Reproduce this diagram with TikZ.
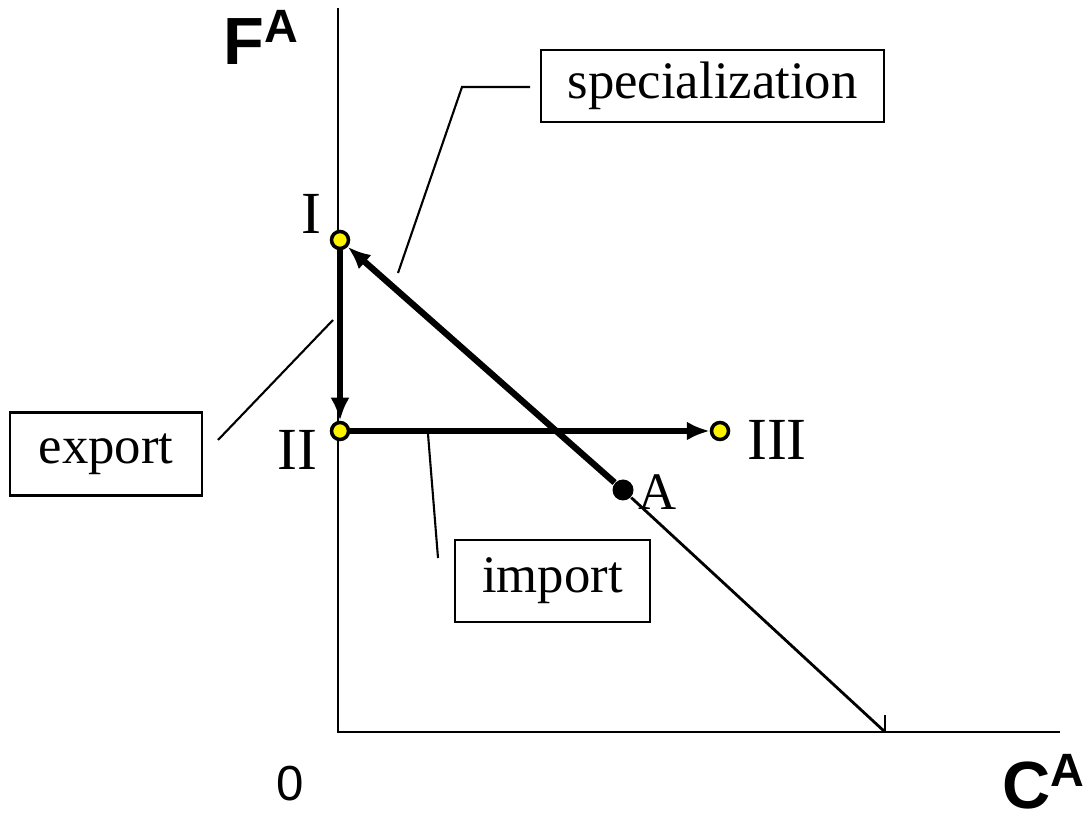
\documentclass[tikz,border=0pt]{standalone}
\usepackage{fontspec}
\setmainfont{Liberation Serif}
\newfontfamily\axisfont{Liberation Sans}
\usetikzlibrary{arrows.meta}
\tikzset{
  pt/.style={circle, draw=black, line width=1pt, fill=yellow, inner sep=0pt, minimum size=0.17cm},
  box/.style={draw, line width=0.6pt, inner sep=0pt, font=\fontsize{15}{18}\selectfont},
  move/.style={line width=1.8pt, -{Latex[length=2.3mm, width=1.9mm]}},
  lbl/.style={font=\fontsize{17}{20}\selectfont},
  ax/.style={font=\axisfont\bfseries\fontsize{19}{22}\selectfont}
}
\begin{document}
\begin{tikzpicture}
    \useasboundingbox (0,0) rectangle (10.89,8.20);
    \coordinate (O) at (3.38,0.88);
    \coordinate (Ytop) at (3.38,8.12);
    \coordinate (Xend) at (10.60,0.88);
    \coordinate (T) at (8.85,0.88);
    \coordinate (Ttop) at (8.85,1.05);
    \draw[line width=0.8pt] (Ytop) -- (O) -- (Xend);
    \draw[line width=0.8pt] (T) -- (Ttop);
    % points on the diagram
    \node[circle, fill=black, inner sep=0pt, minimum size=0.21cm] (A) at (6.23,3.30) {};
    \node[pt] (I) at (3.40,5.80) {};
    \node[pt] (II) at (3.40,3.89) {};
    \node[pt] (III) at (7.20,3.89) {};
    \draw[line width=0.8pt] (A) -- (T);
    \draw[move] (A) -- (I);
    \draw[move] (I) -- (II);
    \draw[move] (II) -- (III);
    \node[lbl] (lI) at (3.11,6.06) {I};
    \node[lbl] (lII) at (2.97,3.70) {II};
    \node[lbl] (lIII) at (7.77,3.80) {III};
    \node[font=\fontsize{15}{18}\selectfont] (lA) at (6.58,3.28) {A};
    % axis names
    \node[ax] (F) at (2.62,7.83) {F\textsuperscript{A}};
    \node[ax] (C) at (10.44,0.38) {C\textsuperscript{A}};
    \node[font=\axisfont\fontsize{14}{17}\selectfont] (zero) at (2.90,0.36) {0};
    % boxes with leaders
    \node[box, minimum width=3.43cm, minimum height=0.72cm] (spec) at (7.125,7.34) {specialization};
    \node[box, minimum width=1.92cm, minimum height=0.83cm] (export) at (1.06,3.66) {export};
    \node[box, minimum width=1.95cm, minimum height=0.82cm] (import) at (5.525,2.39) {import};
    \coordinate (s1) at (3.98,5.47);
    \coordinate (s2) at (4.62,7.33);
    \coordinate (s3) at (5.30,7.33);
    \draw[line width=0.6pt] (s1) -- (s2) -- (s3);
    \coordinate (e1) at (2.18,3.80);
    \coordinate (e2) at (3.33,5.00);
    \draw[line width=0.6pt] (e1) -- (e2);
    \coordinate (i1) at (4.38,2.62);
    \coordinate (i2) at (4.28,3.86);
    \draw[line width=0.6pt] (i1) -- (i2);
\end{tikzpicture}
\end{document}
